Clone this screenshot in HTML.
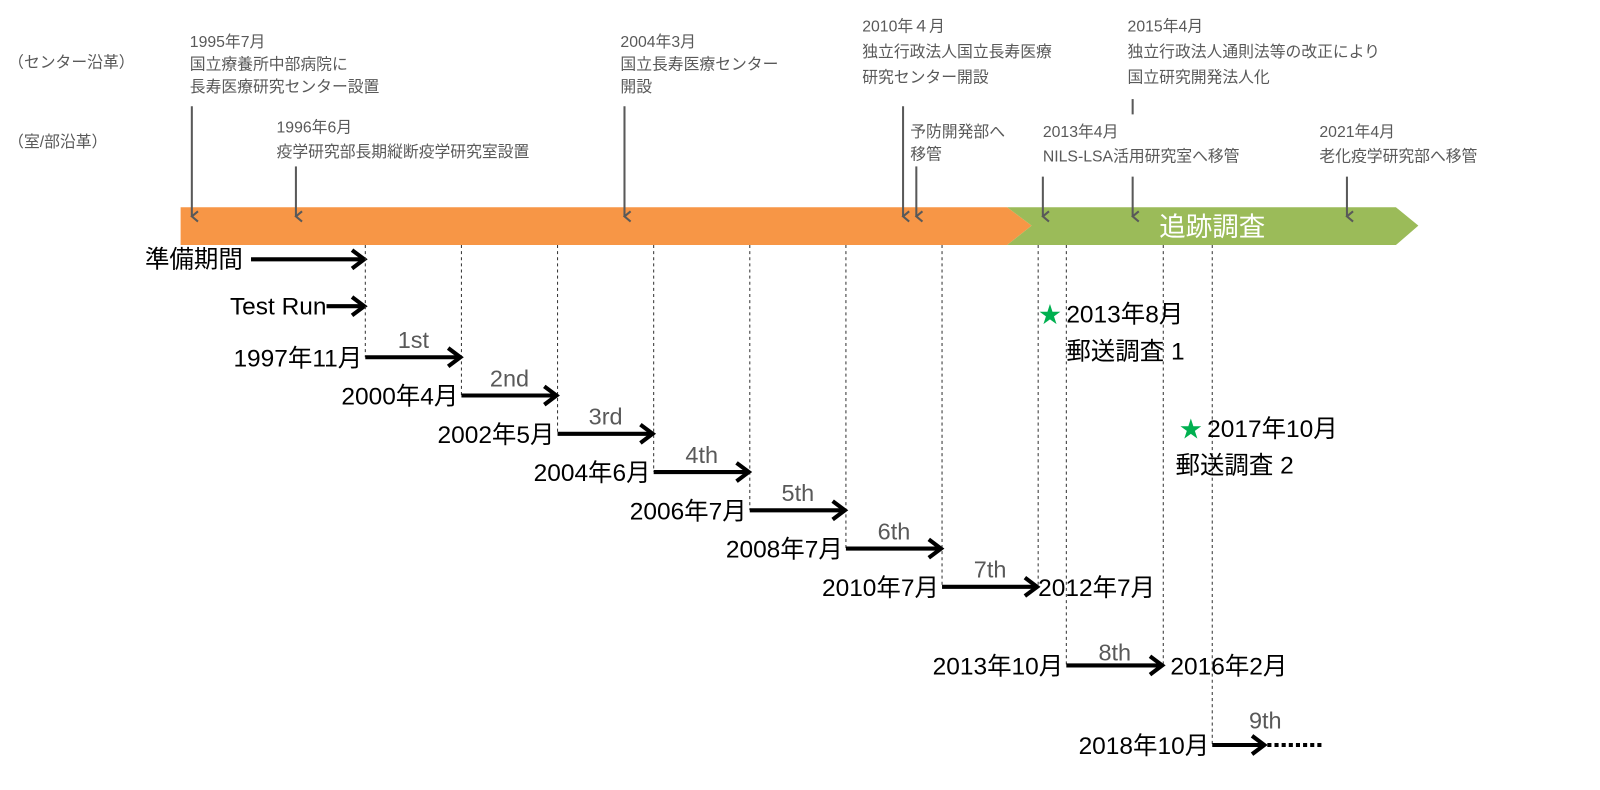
<!DOCTYPE html>
<html><head><meta charset="utf-8">
<style>
html,body{margin:0;padding:0;background:#fff;}
svg{display:block;font-family:"Liberation Sans","Noto Sans CJK JP",sans-serif;}
.g{fill:#595959;font-size:15.5px;}
.b{fill:#000;font-size:24px;}
.w{fill:#595959;font-size:23px;}
</style></head>
<body>
<svg id="chart" width="1600" height="790" viewBox="0 0 1568 774" xmlns="http://www.w3.org/2000/svg">
<defs>
<marker id="ga" markerWidth="12" markerHeight="12" refX="6" refY="10" orient="auto-start-reverse" markerUnits="userSpaceOnUse" viewBox="0 0 12 12">
<path d="M1,4 L6,10 L11,4" fill="none" stroke="#595959" stroke-width="2"/>
</marker>
</defs>
<g>
<polygon points="177,203 987,203 1011,221 987,240 177,240" fill="#f79646"/>
<polygon points="987,203 1368,203 1390,221 1368,240 987,240 1011,221" fill="#9bbb59"/>
<text x="1188" y="231" text-anchor="middle" fill="#fff" font-size="26">追跡調査</text>
</g>
<g id="header">
<text class="g" x="8" y="66">（センター沿革）</text>
<text class="g" x="8" y="144">（室/部沿革）</text>
<text class="g"><tspan x="186" y="46">1995年7月</tspan><tspan x="186" y="68">国立療養所中部病院に</tspan><tspan x="186" y="90">長寿医療研究センター設置</tspan></text>
<text class="g"><tspan x="271" y="130">1996年6月</tspan><tspan x="271" y="154">疫学研究部長期縦断疫学研究室設置</tspan></text>
<text class="g"><tspan x="608" y="46">2004年3月</tspan><tspan x="608" y="68">国立長寿医療センター</tspan><tspan x="608" y="90">開設</tspan></text>
<text class="g"><tspan x="845" y="31">2010年４月</tspan><tspan x="845" y="56">独立行政法人国立長寿医療</tspan><tspan x="845" y="81">研究センター開設</tspan></text>
<text class="g"><tspan x="1105" y="31">2015年4月</tspan><tspan x="1105" y="56">独立行政法人通則法等の改正により</tspan><tspan x="1105" y="81">国立研究開発法人化</tspan></text>
<text class="g"><tspan x="892" y="134">予防開発部へ</tspan><tspan x="892" y="156">移管</tspan></text>
<text class="g"><tspan x="1022" y="134">2013年4月</tspan><tspan x="1022" y="158">NILS-LSA活用研究室へ移管</tspan></text>
<text class="g"><tspan x="1293" y="134">2021年4月</tspan><tspan x="1293" y="158">老化疫学研究部へ移管</tspan></text>
<line x1="1110" y1="97" x2="1110" y2="112" stroke="#595959" stroke-width="2"/>
</g>
<g id="marks"></g>
<g>
<text x="1018" y="316" fill="#00b050" font-size="22">★</text>
<text class="b"><tspan x="1045" y="316">2013年8月</tspan><tspan x="1045" y="352">郵送調査 1</tspan></text>
<text x="1156" y="428" fill="#00b050" font-size="22">★</text>
<text class="b"><tspan x="1183" y="428">2017年10月</tspan><tspan x="1152" y="464">郵送調査 2</tspan></text>
</g>
</svg>
<script>
const eventX = [188, 290, 612, 885, 898, 1022, 1110, 1320];
const eventTop = [104, 163, 104, 104, 163, 173, 173, 173];
const waveNames = ["1st","2nd","3rd","4th","5th","6th","7th"];
const waveStartLabels = ["1997年11月","2000年4月","2002年5月","2004年6月","2006年7月","2008年7月","2010年7月"];
const lateNames = ["8th","9th"];
const lateStartLabels = ["2013年10月","2018年10月"];
const lateEndLabels = ["2016年2月",""];
const NS="http://www.w3.org/2000/svg";
const svg=document.getElementById('chart');
const marks=document.getElementById('marks');
function mk(tag,attrs,parent){const e=document.createElementNS(NS,tag);for(const k in attrs)e.setAttribute(k,attrs[k]);(parent||marks).appendChild(e);return e;}
function xw(i){return 358+i*94.2;}
function yw(i){return 350+i*37.5;}
function arrow(x1,x2,y,len){
  const l=mk('line',{x1:x1,y1:y,x2:x2-2,y2:y,stroke:'#000','stroke-width':4});
  
  
  const h=mk('path',{d:`M${x2-13},${y-9} L${x2-1},${y} L${x2-13},${y+9}`,fill:'none',stroke:'#000','stroke-width':4,'stroke-linejoin':'miter'});
  
  
}
function dash(x,y2){
  const d=mk('line',{x1:x,y1:240,x2:x,y2:y2,stroke:'#333','stroke-width':1,'stroke-dasharray':'3,3'});
  
  
}
function txt(x,y,s,cls,anchor){
  const t=mk('text',{x:x,y:y,class:cls,'text-anchor':anchor||'start'});t.textContent=s;
  
  
  return t;
}
// gray event arrows
eventX.forEach((x,i)=>{
  const a=mk('line',{x1:x,y1:eventTop[i],x2:x,y2:212,stroke:'#595959','stroke-width':2,'marker-end':'url(#ga)'});
  
  
});
// preparation / test run
txt(238,262,"準備期間","b","end");
arrow(246,358,254);
txt(320,308,"Test Run","b","end");
arrow(320,358,300);
dash(358,350);
// waves 1-7
waveNames.forEach((n,i)=>{
  const x1=xw(i),x2=xw(i+1),y=yw(i);
  dash(x2,y+37.5>575?575:y+37.5);
  txt(x1-3,y+9,waveStartLabels[i],"b","end");
  arrow(x1,x2,y);
  txt((x1+x2)/2,y-9,n,"w","middle");
});
txt(xw(7),yw(6)+9,"2012年7月","b","start");
// wave 8
const y8=652,x8a=1045,x8b=1140;
dash(x8a,y8);dash(x8b,y8);
txt(x8a-3,y8+9,lateStartLabels[0],"b","end");
arrow(x8a,x8b,y8);
txt((x8a+x8b)/2,y8-5,lateNames[0],"w","middle");
txt(x8b+7,y8+9,lateEndLabels[0],"b","start");
// wave 9
const y9=730,x9a=1188,x9b=1240;
dash(x9a,y9);
txt(x9a-3,y9+9,lateStartLabels[1],"b","end");
arrow(x9a,x9b,y9);
const dd=mk('line',{x1:x9b+2,y1:y9,x2:1295,y2:y9,stroke:'#000','stroke-width':4,'stroke-dasharray':'4,3'});


txt(x9b,y9-16,lateNames[1],"w","middle");
</script>
</body></html>
